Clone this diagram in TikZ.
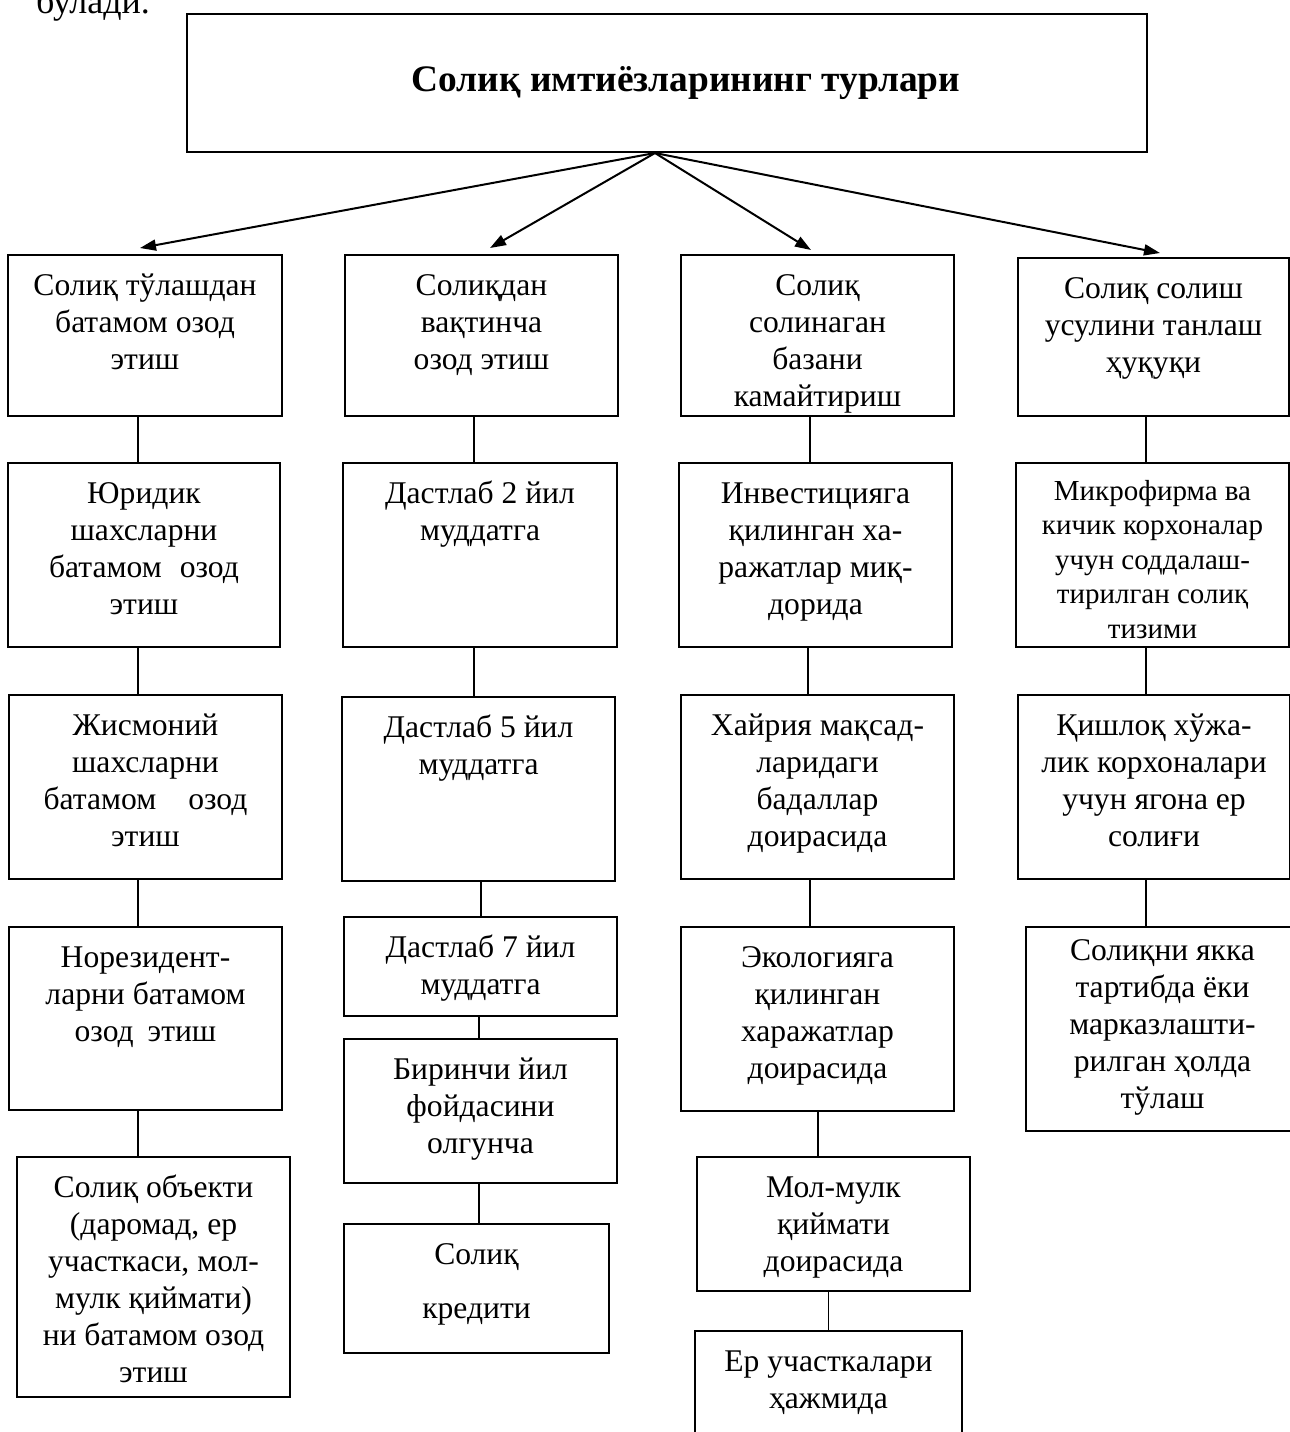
\documentclass[tikz,border=0pt]{standalone}
\usepackage{fontspec}
\setmainfont{Liberation Serif}
\usetikzlibrary{arrows.meta,calc}
\newdimen\pxu \pxu=0.5pt
% box text, top aligned: [first baseline]{width}{height}{text}
\newcommand{\cellbox}[4][20pt]{\parbox[c][#3\pxu][t]{#2\pxu}{\centering\rule{0pt}{#1}#4}}

\begin{document}
\begin{tikzpicture}[x=0.5pt, y=-0.5pt]
\tikzset{cell/.style={draw, line width=1pt, inner sep=0pt, outer sep=0pt, anchor=north west, font=\fontsize{15.8}{18.5}\selectfont}}
\tikzset{link/.style={line width=0.7pt}}
\tikzset{branch/.style={line width=1pt, -{Triangle[length=8pt,width=5.5pt]}}}
\useasboundingbox (0,0) rectangle (1290,1432);

\node [anchor=base west, font=\fontsize{18}{20}\selectfont] (intro) at (29,13.5) {булади.};

\node [draw, line width=1pt, inner sep=0pt, anchor=north west, minimum width=480pt, minimum height=69pt, font=\fontsize{18.7}{22}\selectfont\bfseries] (top) at (186,13) {\hspace*{19pt}Солиқ имтиёзларининг турлари};

\node [cell] (A1) at (8,255) {\cellbox{274}{161}{Солиқ тўлашдан\\ батамом озод\\ этиш}};
\node [cell] (B1) at (345,255) {\cellbox{273}{161}{Солиқдан\\ вақтинча\\ озод этиш}};
\node [cell] (C1) at (681,255) {\cellbox{273}{161}{Солиқ\\ солинаган\\ базани\\ камайтириш}};
\node [cell] (D1) at (1018,258) {\cellbox{271}{158}{Солиқ солиш\\ усулини танлаш\\ ҳуқуқи}};

\node [cell] (A2) at (8,463) {\cellbox{272}{184}{Юридик\\ шахсларни\\ батамом\hspace{9pt}озод\\ этиш}};
\node [cell] (B2) at (343,463) {\cellbox{274}{184}{Дастлаб 2 йил\\ муддатга}};
\node [cell] (C2) at (679,463) {\cellbox{273}{184}{Инвестицияга\\ қилинган ха-\\ ражатлар миқ-\\ дорида}};
\node [cell, font=\fontsize{14.5}{17.3}\selectfont] (D2) at (1016,463) {\cellbox[18.5pt]{273}{184}{Микрофирма ва\\ кичик корхоналар\\ учун соддалаш-\\ тирилган солиқ\\ тизими}};

\node [cell] (A3) at (9,695) {\cellbox{273}{184}{Жисмоний\\ шахсларни\\ батамом\hspace{16pt}озод\\ этиш}};
\node [cell] (B3) at (342,697) {\cellbox{273}{184}{Дастлаб 5 йил\\ муддатга}};
\node [cell] (C3) at (681,695) {\cellbox{273}{184}{Хайрия мақсад-\\ ларидаги\\ бадаллар\\ доирасида}};
\node [cell] (D3) at (1018,695) {\cellbox{272}{184}{Қишлоқ хўжа-\\ лик корхоналари\\ учун ягона ер\\ солиғи}};

\node [cell] (A4) at (9,927) {\cellbox{273}{183}{Норезидент-\\ ларни батамом\\ озод\hspace{7pt}этиш}};
\node [cell] (B4) at (344,917) {\cellbox{273}{99}{Дастлаб 7 йил\\ муддатга}};
\node [cell] (C4) at (681,927) {\cellbox{273}{184}{Экологияга\\ қилинган\\ харажатлар\\ доирасида}};
\node [cell] (D4) at (1026,927) {\cellbox[16.5pt]{273}{204}{Солиқни якка\\ тартибда ёки\\ марказлашти-\\ рилган ҳолда\\ тўлаш}};

\node [cell] (A5) at (17,1157) {\cellbox{273}{240}{Солиқ объекти\\ (даромад, ер\\ участкаси, мол-\\ мулк қиймати)\\ ни батамом озод\\ этиш}};
\node [cell] (B5) at (344,1039) {\cellbox{273}{144}{Биринчи йил\\ фойдасини\\ олгунча}};
\node [cell] (B6) at (344,1224) {\cellbox{265}{129}{Солиқ\\[8.5pt] кредити}};
\node [cell] (C5) at (697,1157) {\cellbox{273}{134}{Мол-мулк\\ қиймати\\ доирасида}};
\node [cell] (C6) at (695,1331) {\cellbox{267}{120}{Ер участкалари\\ ҳажмида}};

% arrows from the title box
\coordinate (hub) at ([xshift=-6pt]top.south);
\draw [branch] (hub) -- ([xshift=-2.5pt,yshift=3.5pt]A1.north);
\draw [branch] (hub) -- ([xshift=4.25pt,yshift=3.5pt]B1.north);
\draw [branch] (hub) -- ([xshift=-3.25pt,yshift=2.5pt]C1.north);
\draw [branch] (hub) -- ([xshift=3.25pt,yshift=2.5pt]D1.north);

% vertical links
\foreach \u/\v/\s in {A1/A2/-3.5, A2/A3/-3, A3/A4/-3.75, A4/A5/-3.75,
                      B1/B2/-3.75, B2/B3/-3, B3/B4/1.25, B4/B5/-0.75, B5/B6/-0.75,
                      C1/C2/-3.75, C2/C3/-3.75, C3/C4/-3.75, C4/C5/0.25,
                      D1/D2/-3.75, D2/D3/-3.25, D3/D4/-4}
  \draw [link] ([xshift=\s pt]\u.south) -- ([xshift=\s pt]\u.south |- \v.north);
\draw [link] (C6.north |- C5.south) -- (C6.north);

\end{tikzpicture}
\end{document}
